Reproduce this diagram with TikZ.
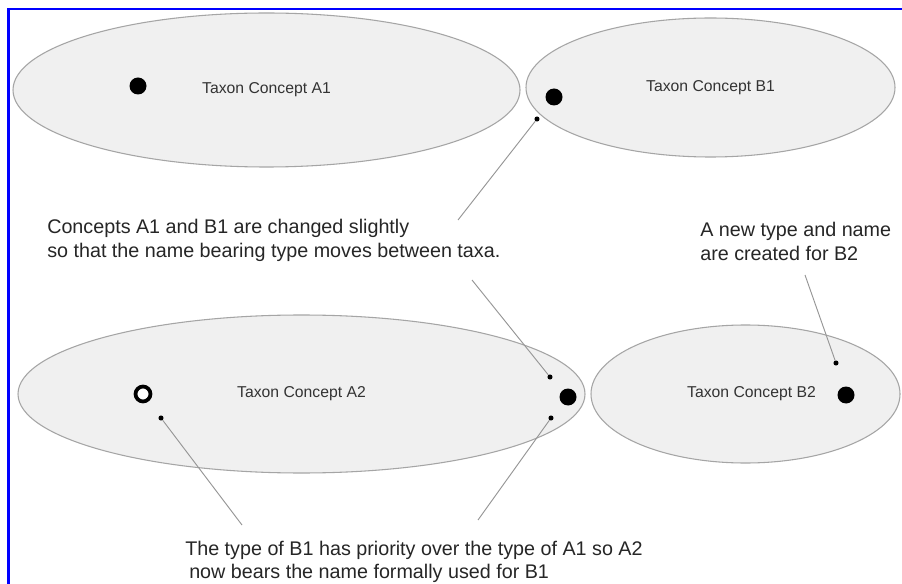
\documentclass[tikz,border=0pt]{standalone}
\usepackage{fontspec}
\setmainfont{Liberation Sans}
\usetikzlibrary{shapes.geometric}
\definecolor{ellfill}{RGB}{240,240,240}
\definecolor{elldraw}{RGB}{165,165,165}
\definecolor{linegray}{RGB}{150,150,150}
\definecolor{framblue}{RGB}{0,0,255}
\begin{document}
\begin{tikzpicture}[x=0.75pt,y=-0.75pt,
  taxon/.style={ellipse, draw=elldraw, fill=ellfill, line width=0.8pt, inner sep=0pt,
    font=\fontsize{11.8}{14}\selectfont, text=black!80},
  bigdot/.style={circle, fill=black, inner sep=0pt, minimum size=12.75pt},
  opendot/.style={circle, draw=black, line width=2.8pt, fill=white, inner sep=0pt, minimum size=11.2pt},
  smalldot/.style={circle, fill=black, inner sep=0pt, minimum size=3.8pt},
  pointer/.style={draw=linegray, line width=0.7pt},
  caption/.style={align=left, anchor=west, inner sep=0pt,
    font=\fontsize{14.8}{17.5}\selectfont, text=black!85}]
\useasboundingbox (0,0) rectangle (902,584);
\fill[white] (0,0) rectangle (902,584);
\draw[framblue, line width=1.9pt] (8.5,584) -- (8.5,9) -- (902,9);

% ellipses
\node[taxon, minimum width=380.25pt, minimum height=115.5pt] (A1) at (266.5,90) {Taxon Concept A1};
\node[taxon, minimum width=276.75pt, minimum height=104.25pt] (B1) at (710.5,87.5) {Taxon Concept B1};
\node[taxon, minimum width=425.25pt, minimum height=118.5pt] (A2) at (301.5,394) {Taxon Concept A2};
\node[taxon, minimum width=231.75pt, minimum height=103.5pt] (B2) at (745.5,394) {\hspace{9pt}Taxon Concept B2};

% type dots
\node[bigdot] (dA1) at (138,86) {};
\node[bigdot] (dB1) at (554,97) {};
\node[opendot] (dA2o) at (143,394) {};
\node[bigdot] (dA2) at (568,397) {};
\node[bigdot] (dB2) at (846,395) {};

% pointer end dots
\node[smalldot] (sB1) at (537,119) {};
\node[smalldot] (sA2u) at (550,377) {};
\node[smalldot] (sA2l) at (551,418) {};
\node[smalldot] (sA2o) at (161,418) {};
\node[smalldot] (sB2) at (836,363) {};

% captions
\node[caption] (cap1) at (47,240.5) {Concepts A1 and B1 are changed slightly\\so that the name bearing type moves between taxa.};
\node[caption] (cap2) at (700,241.5) {A new type and name\\are created for B2};
\node[caption, font=\fontsize{14.8}{17.5}\selectfont] (cap3) at (185,562) {The type of B1 has priority over the type of A1 so A2\\\hspace{3pt}now bears the name formally used for B1};

% pointer starts
\coordinate (c1a) at (458,220);
\coordinate (c1b) at (472,280);
\coordinate (c2) at (805,275);
\coordinate (c3a) at (242,525);
\coordinate (c3b) at (478,520);

\draw[pointer] (c1a) -- (sB1);
\draw[pointer] (c1b) -- (sA2u);
\draw[pointer] (c2) -- (sB2);
\draw[pointer] (c3a) -- (sA2o);
\draw[pointer] (c3b) -- (sA2l);
\end{tikzpicture}
\end{document}
